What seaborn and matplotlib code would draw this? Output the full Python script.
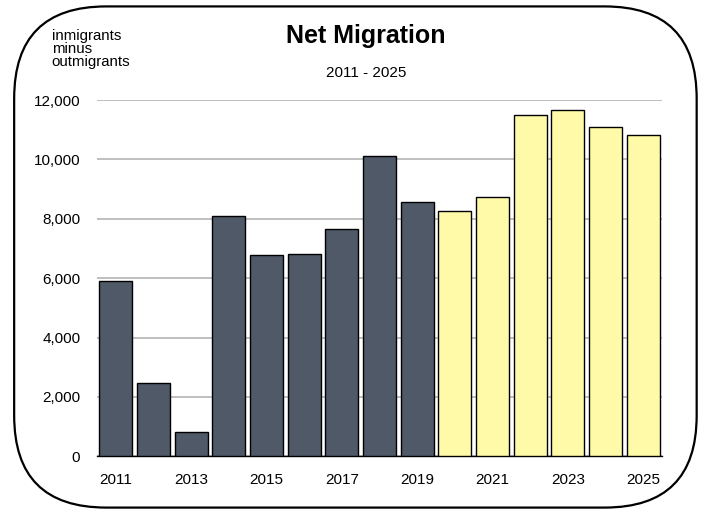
import pandas as pd
import matplotlib.pyplot as plt
import seaborn as sns
import numpy as np
from matplotlib.patches import FancyBboxPatch

# Chart data
years = [str(y) for y in range(2011, 2026)]
net_migration = [5890, 2460, 830, 8080, 6790, 6830, 7660, 10130, 8550,
                 8260, 8730, 11490, 11650, 11090, 10820]
period = ["historic"] * 9 + ["projected"] * 6
y_ticks = [0, 2000, 4000, 6000, 8000, 10000, 12000]

BAR_COLORS = {"historic": "#4f5968", "projected": "#fffaa8"}


def init_plot_style():
    sns.set_style("white")
    plt.rcParams["font.family"] = ["Liberation Sans", "DejaVu Sans"]
    plt.rcParams["axes.unicode_minus"] = False
    plt.rcParams["text.color"] = "black"
    plt.rcParams["xtick.color"] = "black"
    plt.rcParams["ytick.color"] = "black"


def plot_net_migration():
    df = pd.DataFrame({"year": years, "net": net_migration, "period": period})

    fig = plt.figure(figsize=(7.08, 5.14), dpi=100)
    ax = fig.add_axes([0.137, 0.1122, 0.798, 0.6932])

    sns.barplot(
        data=df, x="year", y="net", hue="period", palette=BAR_COLORS,
        dodge=False, width=0.87, edgecolor="black", linewidth=1.0,
        saturation=1, legend=False, ax=ax, zorder=3
    )

    # Y axis and gridlines
    ax.set_ylim(0, 12000)
    ax.set_yticks(y_ticks)
    ax.set_yticklabels([f"{v:,}" for v in y_ticks], fontsize=11)
    ax.yaxis.grid(True, color="#b4b4b4", linewidth=1.2, zorder=0)
    ax.tick_params(axis="y", length=0, pad=12)

    # X axis: labels every other year, tick marks at bar boundaries
    ax.set_xlim(-0.5, len(years) - 0.5)
    ax.set_xticks(range(len(years)))
    ax.set_xticklabels([y if i % 2 == 0 else "" for i, y in enumerate(years)],
                       fontsize=11)
    ax.tick_params(axis="x", which="major", length=0, pad=12)
    ax.set_xticks(np.arange(-0.5, len(years), 1.0), minor=True)
    ax.tick_params(axis="x", which="minor", length=5, width=1, color="black",
                   direction="out")
    ax.set_xlabel("")
    ax.set_ylabel("")

    for side in ["top", "right", "left"]:
        ax.spines[side].set_visible(False)
    ax.spines["bottom"].set_color("black")
    ax.spines["bottom"].set_linewidth(1.0)

    # Titles and unit note
    fig.text(0.517, 0.93, "Net Migration", ha="center", va="center",
             fontsize=18, fontweight="bold")
    fig.text(0.517, 0.858, "2011 - 2025", ha="center", va="center", fontsize=11)
    fig.text(0.073, 0.944, "inmigrants\nminus\noutmigrants", ha="left", va="top",
             fontsize=10.8, linespacing=0.92)

    # Rounded frame around the whole chart
    frame = FancyBboxPatch(
        (0.02 + 0.11, 0.014 + 0.15), 0.964 - 0.22, 0.972 - 0.3,
        boxstyle="round,pad=0.11,rounding_size=0.13",
        transform=fig.transFigure, fill=False, edgecolor="black",
        linewidth=1.6, mutation_aspect=708 / 514
    )
    fig.patches.append(frame)

    fig.savefig("out.png", dpi=100)


if __name__ == "__main__":
    init_plot_style()
    plot_net_migration()
